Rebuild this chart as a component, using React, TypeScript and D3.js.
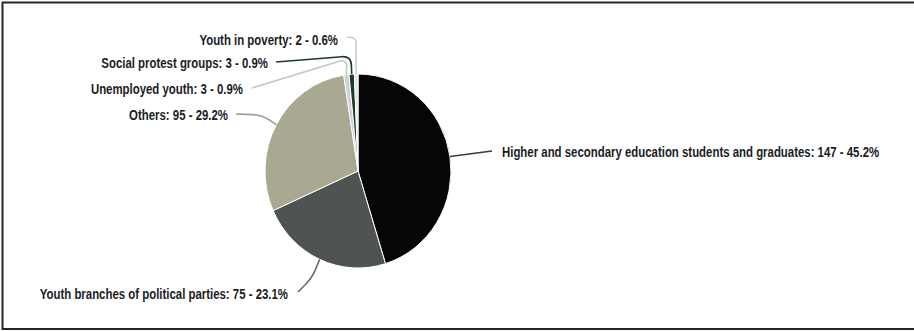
import React from "react";
import * as d3 from "d3";

// Youth groups involved, count per category
const categories = [
  "Higher and secondary education students and graduates",
  "Youth branches of political parties",
  "Others",
  "Unemployed youth",
  "Social protest groups",
  "Youth in poverty",
];
const counts = [147, 75, 95, 3, 3, 2];
const sliceColors = ["#060606", "#4f5352", "#a9a890", "#cfd0d8", "#1e3b24", "#e2e4ea"];
const connectorColors = ["#3a3a3a", "#6a6d6c", "#9a9a90", "#c4c6cc", "#1e3b24", "#c8ccd4"];

// Label placement: text anchor point and the elbow the connector bends through
const labelLayout = [
  { x: 502, y: 152, anchor: "start", path: [[492, 151]] },
  { x: 288, y: 294, anchor: "end", path: [[298, 292], [312, 278]] },
  { x: 228, y: 115, anchor: "end", path: [[236, 114], [262, 115]] },
  { x: 243, y: 89, anchor: "end", path: [[252, 88], [347, 59]] },
  { x: 268, y: 63, anchor: "end", path: [[276, 62], [351, 56]] },
  { x: 338, y: 40, anchor: "end", path: [[347, 37], [356, 38]] },
];

const W = 914;
const H = 331;
const cx = 358;
const cy = 171;
const ry = 97;
const rx = 93;
// horizontal condensing of the label face
const textSqueeze = 0.815;

function roundedPath(pts: number[][], r: number): string {
  const p = d3.path();
  p.moveTo(pts[0][0], pts[0][1]);
  for (let i = 1; i < pts.length - 1; i++) {
    const [x0, y0] = pts[i - 1];
    const [x1, y1] = pts[i];
    const [x2, y2] = pts[i + 1];
    const d1 = Math.hypot(x1 - x0, y1 - y0);
    const d2 = Math.hypot(x2 - x1, y2 - y1);
    const rr = Math.min(r, d1 / 2, d2 / 2);
    const ax = x1 - ((x1 - x0) / d1) * rr;
    const ay = y1 - ((y1 - y0) / d1) * rr;
    const bx = x1 + ((x2 - x1) / d2) * rr;
    const by = y1 + ((y2 - y1) / d2) * rr;
    p.lineTo(ax, ay);
    p.quadraticCurveTo(x1, y1, bx, by);
  }
  const last = pts[pts.length - 1];
  p.lineTo(last[0], last[1]);
  return p.toString();
}

export default function App() {
  const total = d3.sum(counts);
  const pie = d3.pie<number>().sort(null).value((d) => d);
  const arcs = pie(counts);
  const arcGen = d3.arc<d3.PieArcDatum<number>>().innerRadius(0).outerRadius(ry);

  return (
    <svg
      width={W}
      height={H}
      style={{ position: "absolute", left: 0, top: 0, background: "#fff" }}
    >
      <rect x={2.5} y={2.5} width={W + 10} height={326.5} fill="#fff" stroke="#262626" strokeWidth={2} />
      <g transform={`translate(${cx},${cy}) scale(${rx / ry},1)`}>
        {arcs.map((a, i) => (
          <path key={i} d={arcGen(a) || ""} fill={sliceColors[i]} stroke="#fff" strokeWidth={1} vectorEffect="non-scaling-stroke" />
        ))}
      </g>
      {arcs.map((a, i) => {
        const mid = (a.startAngle + a.endAngle) / 2;
        const ex = cx + rx * Math.sin(mid);
        const ey = cy - ry * Math.cos(mid);
        const L = labelLayout[i];
        const pts = [...L.path, [ex, ey]];
        return (
          <path key={i} d={roundedPath(pts, 10)} fill="none" stroke={connectorColors[i]} strokeWidth={1.6} />
        );
      })}
      {arcs.map((a, i) => {
        const L = labelLayout[i];
        const pct = ((counts[i] / total) * 100).toFixed(1);
        return (
          <text
            key={i}
            transform={`translate(${L.x},${L.y}) scale(${textSqueeze},1)`}
            dy="0.35em"
            textAnchor={L.anchor as any}
            fontFamily="'Liberation Sans', Arial, sans-serif"
            fontWeight="bold"
            fontSize={14}
            fill="#1c1c24"
          >
            {`${categories[i]}: ${counts[i]} - ${pct}%`}
          </text>
        );
      })}
    </svg>
  );
}
